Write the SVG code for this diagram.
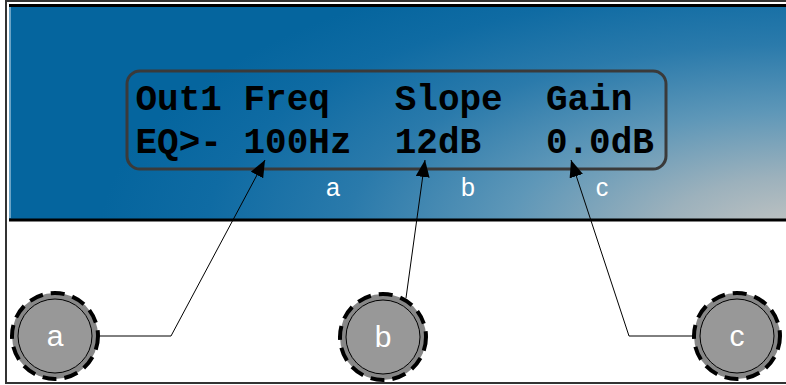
<svg xmlns="http://www.w3.org/2000/svg" width="786" height="385" viewBox="0 0 786 385">
  <defs>
    <radialGradient id="panelGrad" gradientUnits="userSpaceOnUse" cx="800" cy="235" r="700" gradientTransform="translate(800 235) scale(1 0.42) translate(-800 -235)">
      <stop offset="0" stop-color="#c6c6c3"/>
      <stop offset="0.2" stop-color="#9cb1bc"/>
      <stop offset="0.42" stop-color="#5e97b8"/>
      <stop offset="0.65" stop-color="#2a7aab"/>
      <stop offset="0.85" stop-color="#0f6ba3"/>
      <stop offset="1" stop-color="#05659e"/>
    </radialGradient>
    <marker id="arrow" markerUnits="userSpaceOnUse" markerWidth="18" markerHeight="14" refX="17" refY="7" orient="auto">
      <path d="M0,0 L17,7 L0,14 z" fill="#000"/>
    </marker>
  </defs>
  <style>
    .lcd { font-family: "Courier New", "Liberation Mono", monospace; font-weight: bold; font-size: 36px; fill: #000; }
    .plabel { font-family: "Liberation Sans", Arial, sans-serif; font-size: 25px; fill: #fff; text-anchor: middle; }
    .klabel { font-family: "Liberation Sans", Arial, sans-serif; font-size: 30px; fill: #fff; text-anchor: middle; }
    .kouter { fill: #878787; stroke: #000; stroke-width: 4; stroke-dasharray: 14 8; }
    .kinner { fill: #989898; stroke: #000; stroke-width: 1; }
    .conn { fill: none; stroke: #000; stroke-width: 1; }
  </style>
  <rect x="0" y="0" width="786" height="385" fill="#fff"/>
  <g id="frame">
    <rect x="6" y="1" width="800" height="382" fill="none" stroke="#333" stroke-width="2"/>
    <rect x="9" y="6" width="790" height="213" fill="url(#panelGrad)"/>
    <line x1="10" y1="7" x2="10" y2="218" stroke="#6aa3c6" stroke-width="2"/>
    <line x1="9" y1="5.5" x2="786" y2="5.5" stroke="#000" stroke-width="3"/>
    <line x1="9" y1="220" x2="786" y2="220" stroke="#000" stroke-width="3"/>
  </g>
  <g id="lcd">
    <rect x="127" y="71" width="539" height="98" rx="13" ry="13" fill="none" stroke="#3a3a3a" stroke-width="3"/>
    <text class="lcd" y="110"><tspan x="135.5">Out1</tspan><tspan x="243.5">Freq</tspan><tspan x="394.7">Slope</tspan><tspan x="545.9">Gain</tspan></text>
    <text class="lcd" y="153"><tspan x="135.5">EQ&gt;-</tspan><tspan x="243.5">100Hz</tspan><tspan x="394.7">12dB</tspan><tspan x="545.9">0.0dB</tspan></text>
  </g>
  <g id="panel-labels">
    <text class="plabel" x="333" y="196">a</text>
    <text class="plabel" x="468" y="196">b</text>
    <text class="plabel" x="602" y="196">c</text>
  </g>
  <g id="connectors">
    <polyline class="conn" points="99,336 171,336 265,160" marker-end="url(#arrow)"/>
    <polyline class="conn" points="406,298 425,160" marker-end="url(#arrow)"/>
    <polyline class="conn" points="693,336 629,336 571,160" marker-end="url(#arrow)"/>
  </g>
  <g id="knob-a">
    <circle class="kouter" cx="55" cy="336" r="43"/>
    <circle class="kinner" cx="55" cy="336" r="37"/>
    <text class="klabel" x="55" y="346">a</text>
  </g>
  <g id="knob-b">
    <circle class="kouter" cx="383" cy="337" r="43"/>
    <circle class="kinner" cx="383" cy="337" r="37"/>
    <text class="klabel" x="383" y="347">b</text>
  </g>
  <g id="knob-c">
    <circle class="kouter" cx="737" cy="336" r="43"/>
    <circle class="kinner" cx="737" cy="336" r="37"/>
    <text class="klabel" x="737" y="346">c</text>
  </g>
</svg>
